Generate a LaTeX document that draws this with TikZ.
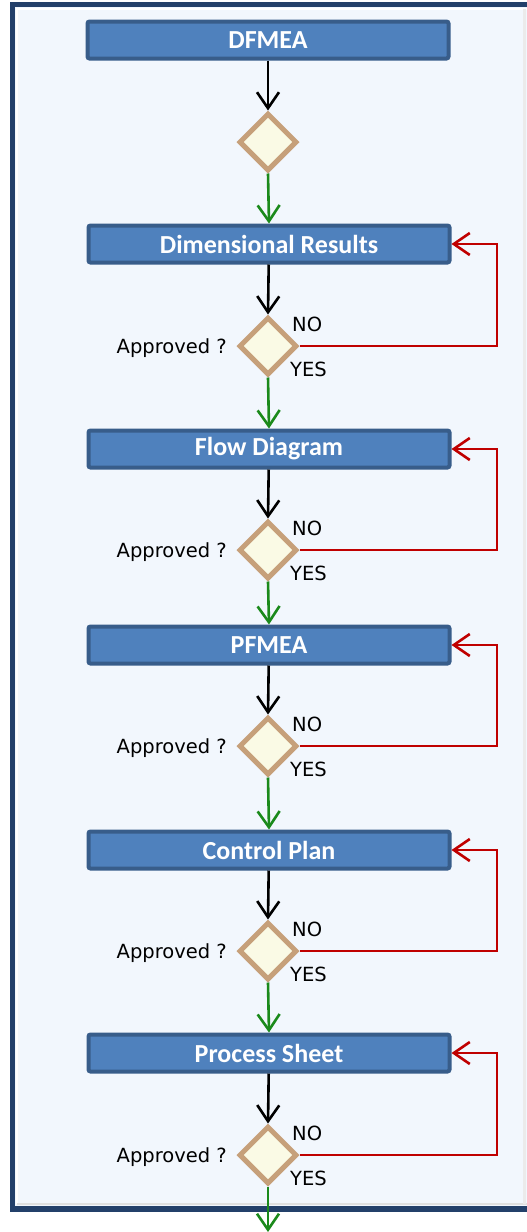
\documentclass[tikz,border=0pt]{standalone}
\usepackage{fontspec}
\setmainfont{DejaVu Sans}
\newfontfamily\stepfont{Carlito}
\usetikzlibrary{shapes.geometric,arrows.meta}
\definecolor{frameblue}{HTML}{23406A}
\definecolor{panelblue}{HTML}{F2F7FD}
\definecolor{boxfill}{HTML}{4F81BD}
\definecolor{boxline}{HTML}{385D8A}
\definecolor{checkline}{HTML}{C6A07A}
\definecolor{checkfill}{HTML}{FAFAE5}
\definecolor{yesgreen}{HTML}{1B8A1B}
\definecolor{nored}{HTML}{C00000}

\begin{document}
\begin{tikzpicture}[x=1pt, y=-1pt,
  stepbox/.style={rectangle, rounded corners=2pt, draw=boxline, line width=4pt, fill=boxfill,
    minimum width=361pt, minimum height=37pt, inner sep=0pt, text=white,
    font=\stepfont\bfseries\fontsize{26}{30}\selectfont},
  check/.style={diamond, draw=checkline, line width=5pt, fill=checkfill,
    minimum width=58pt, minimum height=58pt, inner sep=0pt},
  lbl/.style={font=\fontsize{19.5}{23}\selectfont, inner sep=0pt},
  flow/.style={line width=2.6pt, -{Straight Barb[length=16pt,width=22pt]}},
  go/.style={flow, draw=black},
  yes/.style={flow, draw=yesgreen},
  no/.style={flow, draw=nored}]
\useasboundingbox (0,0) rectangle (527,1232);
% --- Frame ---
\fill[frameblue] (10,2) rectangle (560,1212);
\fill[panelblue] (15,7) rectangle (527,1206);
\draw[white, line width=2pt] (17,1204) -- (17,9) -- (527,9);
\draw[black!12, line width=2pt] (17,1204) -- (527,1204);
\draw[black!8, line width=3pt] (524.5,9) -- (524.5,1204);
%
% --- Steps ---
\node[stepbox] (b1) at (268,40) {DFMEA};
\node[stepbox] (b2) at (269,244) {Dimensional Results};
\node[stepbox] (b3) at (269,449) {Flow Diagram};
\node[stepbox] (b4) at (269,645) {PFMEA};
\node[stepbox] (b5) at (269,850) {Control Plan};
\node[stepbox] (b6) at (269,1053) {Process Sheet};
%
% --- Checks ---
\node[check] (d1) at (268,142) {};
\node[check] (d2) at (268,346) {};
\node[check] (d3) at (268,550) {};
\node[check] (d4) at (268,746) {};
\node[check] (d5) at (268,951) {};
\node[check] (d6) at (268,1155) {};
%
% --- Labels (d2..d6) ---
\node[lbl, anchor=east] (q2) at (227,348) {Approved ?};
\node[lbl, anchor=west] (n2) at (292,324) {NO};
\node[lbl, anchor=west] (y2) at (290,369) {YES};
\node[lbl, anchor=east] (q3) at (227,552) {Approved ?};
\node[lbl, anchor=west] (n3) at (292,528) {NO};
\node[lbl, anchor=west] (y3) at (290,573) {YES};
\node[lbl, anchor=east] (q4) at (227,748) {Approved ?};
\node[lbl, anchor=west] (n4) at (292,724) {NO};
\node[lbl, anchor=west] (y4) at (290,769) {YES};
\node[lbl, anchor=east] (q5) at (227,953) {Approved ?};
\node[lbl, anchor=west] (n5) at (292,929) {NO};
\node[lbl, anchor=west] (y5) at (290,974) {YES};
\node[lbl, anchor=east] (q6) at (227,1157) {Approved ?};
\node[lbl, anchor=west] (n6) at (292,1133) {NO};
\node[lbl, anchor=west] (y6) at (290,1178) {YES};
%
% --- Loop corners ---
\coordinate (r2) at (497,244);
\coordinate (r3) at (497,449);
\coordinate (r4) at (497,645);
\coordinate (r5) at (497,850);
\coordinate (r6) at (497,1053);
\coordinate (out) at (268,1232);
%
% --- Edges ---
\draw[go] (b1) -- (d1.north);
\draw[go] (b2) -- (d2.north);
\draw[go] (b3) -- (d3.north);
\draw[go] (b4) -- (d4.north);
\draw[go] (b5) -- (d5.north);
\draw[go] (b6) -- (d6.north);
%
\draw[yes] (d1.south) -- (b2.north);
\draw[yes] (d2.south) -- (b3.north);
\draw[yes] (d3.south) -- (b4.north);
\draw[yes] (d4.south) -- (b5.north);
\draw[yes] (d5.south) -- (b6.north);
\draw[yes] (d6.south) -- (out);
% --- Rework loops ---
\draw[no] (d2.east) -| (r2) -- (b2.east);
\draw[no] (d3.east) -| (r3) -- (b3.east);
\draw[no] (d4.east) -| (r4) -- (b4.east);
\draw[no] (d5.east) -| (r5) -- (b5.east);
\draw[no] (d6.east) -| (r6) -- (b6.east);
%
\end{tikzpicture}
\end{document}
